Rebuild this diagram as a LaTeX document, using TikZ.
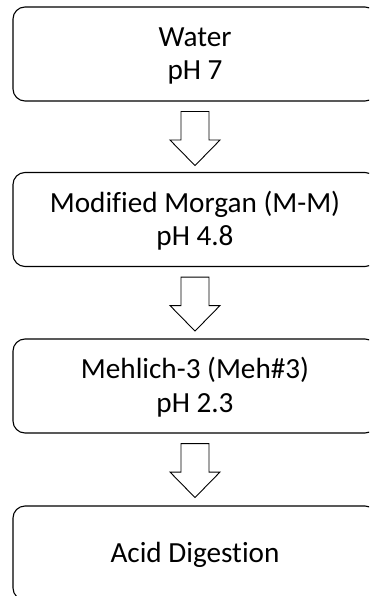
\documentclass[tikz,border=0pt]{standalone}
\usepackage{fontspec}
\setmainfont{Carlito}[Ligatures={NoCommon}]
\usetikzlibrary{calc}
\begin{document}
\begin{tikzpicture}[x=1pt,y=1pt,
  stage/.style={draw=black, line width=1.1pt, rounded corners=12pt,
    minimum width=364pt, minimum height=94pt, inner sep=0pt, align=center,
    font=\fontsize{29.2}{33.5}\selectfont},
  twoline/.style={text height=52pt, text depth=0pt},
  oneline/.style={text height=18.5pt, text depth=0pt},
  blockarrow/.style={draw=black, line width=0.9pt, fill=white, line join=miter}]
\useasboundingbox (0,0) rectangle (369,-596);
\clip (0,0) rectangle (369,-596);
\node[stage, twoline] (water) at (195,-54) {Water\\pH 7};
\node[stage, twoline] (mm) at (195,-219.5) {Modified Morgan (M-M)\\pH 4.8};
\node[stage, twoline] (meh) at (195,-386) {Mehlich-3 (Meh\#3)\\pH 2.3};
\node[stage, oneline] (acid) at (195,-553) {Acid Digestion};
\foreach \a/\b in {water/mm, mm/meh, meh/acid}{
  \draw[blockarrow] ($(\a.south)+(-14,-10)$) -- ++(28,0) -- ++(0,-28.5)
    -- ++(11,0) -- ++(-25,-25.5) -- ++(-25,25.5) -- ++(11,0) -- cycle;
}
\end{tikzpicture}
\end{document}
